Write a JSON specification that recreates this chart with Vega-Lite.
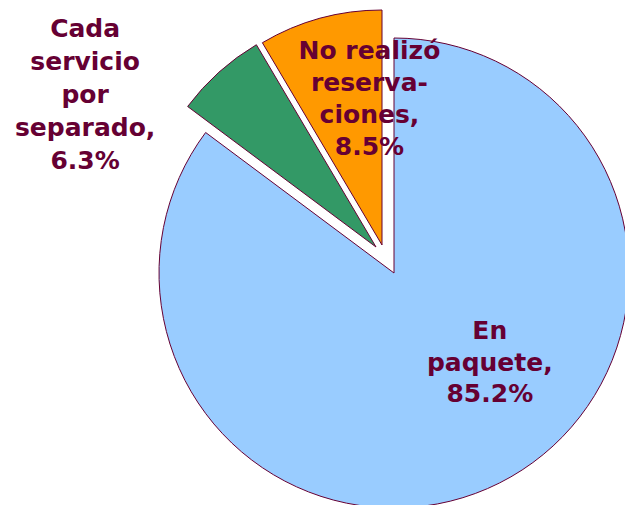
{
  "$schema": "https://vega.github.io/schema/vega-lite/v6.json",
  "width": 470,
  "height": 470,
  "autosize": {"type": "none"},
  "padding": {"left": 159, "top": 38, "right": 0, "bottom": 0},
  "background": "white",
  "view": {"stroke": null},
  "data": {
    "values": [
      {"cat": "En paquete", "label": "En\npaquete,\n85.2%", "value": 85.2, "orden": 1},
      {"cat": "Cada servicio por separado", "label": "Cada\nservicio\npor\nseparado,\n6.3%", "value": 6.3, "orden": 2},
      {"cat": "No realizó reservaciones", "label": "No realizó\nreserva-\nciones,\n8.5%", "value": 8.5, "orden": 3}
    ]
  },
  "encoding": {
    "theta": {"field": "value", "type": "quantitative", "stack": true, "scale": {"domain": [0, 100]}},
    "order": {"field": "orden", "type": "quantitative", "sort": "ascending"}
  },
  "layer": [
    {
      "mark": {"type": "arc", "stroke": "#660033", "strokeWidth": 1},
      "encoding": {
        "color": {"field": "cat", "type": "nominal", "legend": null,
          "scale": {"domain": ["En paquete", "Cada servicio por separado", "No realizó reservaciones"], "range": ["#99CCFF", "#339966", "#FF9900"]}},
        "opacity": {"condition": {"test": "datum.cat === 'En paquete'", "value": 1}, "value": 0}
      }
    },
    {
      "mark": {"type": "arc", "stroke": "#660033", "strokeWidth": 1, "xOffset": -18, "yOffset": -26},
      "encoding": {
        "color": {"field": "cat", "type": "nominal", "legend": null},
        "opacity": {"condition": {"test": "datum.cat === 'Cada servicio por separado'", "value": 1}, "value": 0}
      }
    },
    {
      "mark": {"type": "arc", "stroke": "#660033", "strokeWidth": 1, "xOffset": -12, "yOffset": -28},
      "encoding": {
        "color": {"field": "cat", "type": "nominal", "legend": null},
        "opacity": {"condition": {"test": "datum.cat === 'No realizó reservaciones'", "value": 1}, "value": 0}
      }
    },
    {
      "mark": {"type": "text", "font": "DejaVu Sans", "fontWeight": "bold", "fontSize": 25, "fill": "#660033",
        "lineBreak": "\n", "lineHeight": 31.5, "align": "center", "baseline": "alphabetic", "radius": 120, "dx": 42, "dy": -41},
      "encoding": {
        "text": {"condition": {"test": "datum.cat === 'En paquete'", "field": "label"}, "value": ""}
      }
    },
    {
      "mark": {"type": "text", "font": "DejaVu Sans", "fontWeight": "bold", "fontSize": 25, "fill": "#660033",
        "lineBreak": "\n", "lineHeight": 33, "align": "center", "baseline": "alphabetic", "radius": 317, "dx": -97, "dy": 0},
      "encoding": {
        "text": {"condition": {"test": "datum.cat === 'Cada servicio por separado'", "field": "label"}, "value": ""}
      }
    },
    {
      "mark": {"type": "text", "font": "DejaVu Sans", "fontWeight": "bold", "fontSize": 25, "fill": "#660033",
        "lineBreak": "\n", "lineHeight": 32, "align": "center", "baseline": "alphabetic", "radius": 222, "dx": 34, "dy": 0},
      "encoding": {
        "text": {"condition": {"test": "datum.cat === 'No realizó reservaciones'", "field": "label"}, "value": ""}
      }
    }
  ]
}
